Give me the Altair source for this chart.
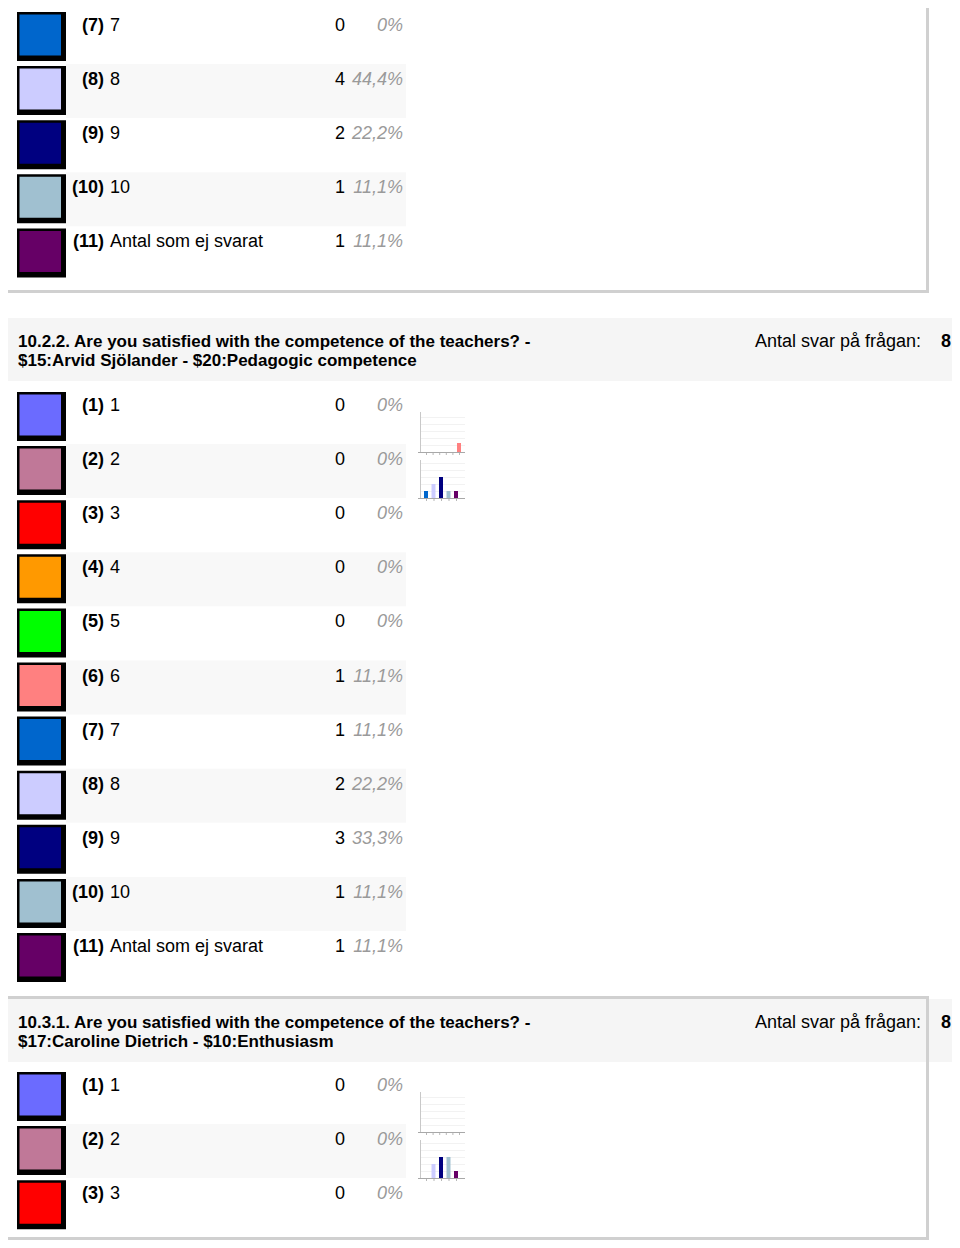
import altair as alt
import pandas as pd

# ---------------- data ----------------
codes = ["(1)", "(2)", "(3)", "(4)", "(5)", "(6)", "(7)", "(8)", "(9)", "(10)", "(11)"]
labels = ["1", "2", "3", "4", "5", "6", "7", "8", "9", "10", "Antal som ej svarat"]
swatch_colors = ["#6b6bff", "#c07898", "#ff0000", "#ff9900", "#00ff00", "#ff8080",
                 "#0066cc", "#ccccff", "#000080", "#a0c0d0", "#660066"]

# section 1 (only options 7-11 visible)
s1_rows = [7, 8, 9, 10, 11]
s1_counts = [0, 4, 2, 1, 1]
s1_pcts = ["0%", "44,4%", "22,2%", "11,1%", "11,1%"]

# section 2
s2_title = ["10.2.2. Are you satisfied with the competence of the teachers? -",
            "$15:Arvid Sjölander - $20:Pedagogic competence"]
s2_rows = [1, 2, 3, 4, 5, 6, 7, 8, 9, 10, 11]
s2_counts = [0, 0, 0, 0, 0, 1, 1, 2, 3, 1, 1]
s2_pcts = ["0%", "0%", "0%", "0%", "0%", "11,1%", "11,1%", "22,2%", "33,3%", "11,1%", "11,1%"]
s2_answers = "8"

# section 3 (only options 1-3 visible in list; thumbnails show all)
s3_title = ["10.3.1. Are you satisfied with the competence of the teachers? -",
            "$17:Caroline Dietrich - $10:Enthusiasm"]
s3_rows = [1, 2, 3]
s3_counts_all = [0, 0, 0, 0, 0, 0, 0, 2, 3, 3, 1]
s3_pcts = ["0%", "0%", "0%"]
s3_answers = "8"
answers_label = "Antal svar på frågan:"

# ---------------- layout helpers ----------------
W, H = 944, 1232
X0, Y0 = 8, 8          # page offset of the view
XMAX, YMAX = X0 + W, Y0 + H
PITCH = 54.1
rects = []   # x, x2, y, y2, fill
texts = []   # x, y, text, style


def add_rect(x, x2, y, y2, fill):
    x, x2 = max(x, X0), min(x2, XMAX)
    y, y2 = max(y, Y0), min(y2, YMAX)
    if x2 > x and y2 > y:
        rects.append(dict(x=x, x2=x2, y=y, y2=y2, fill=fill))


def add_text(x, y, t, style):
    texts.append(dict(x=x, y=y, text=t, style=style))


BORDER = "#d0d0d0"


def header(y_top, title, answers):
    add_rect(5, 956, y_top, y_top + 63, "#f5f5f5")
    add_text(18, y_top + 22, title[0], "title")
    add_text(18, y_top + 41, title[1], "title")
    add_text(921, y_top + 22, answers_label, "antal")
    add_text(946, y_top + 22, answers, "n")


def rows_block(y_first, rows, counts, pcts):
    for k, (r, c, p) in enumerate(zip(rows, counts, pcts)):
        yc = y_first + k * PITCH
        i = r - 1
        if r % 2 == 0:
            add_rect(66, 406, yc - 14, yc + 40, "#f8f8f8")
        add_text(104, yc, codes[i], "code")
        add_text(110, yc, labels[i], "label")
        add_text(345, yc, str(c), "count")
        add_text(403, yc, p, "pct")


def swatches(y_first, rows):
    for k, r in enumerate(rows):
        yc = y_first + k * PITCH
        add_rect(17, 66, yc - 12, yc + 37, "#000000")
        add_rect(19.5, 61, yc - 9.5, yc + 31.5, swatch_colors[r - 1])


def thumb(x0, x1, top, base, values, first_idx, start, pitch, unit):
    g = base - 7
    while g > top:
        add_rect(x0, x1, g, g + 1, "#f2f2f2")
        g -= 7
    add_rect(x0, x0 + 1, top, base, "#c8c8c8")
    add_rect(x0 - 2, x1, base, base + 1, "#a8a8a8")
    for j, v in enumerate(values):
        cx = start + j * pitch
        add_rect(cx, cx + 1, base + 1, base + 3, "#b8b8b8")
        if v > 0:
            add_rect(cx - 2, cx + 2, base - v * unit, base, swatch_colors[first_idx + j])


# section 1
rows_block(24, s1_rows, s1_counts, s1_pcts)
add_rect(926, 929, 0, 293, BORDER)
add_rect(3, 929, 290, 293, BORDER)

# section 2
header(318, s2_title, s2_answers)
rows_block(404, s2_rows, s2_counts, s2_pcts)

# section 3
header(999, s3_title, s3_answers)
rows_block(1084, s3_rows, [s3_counts_all[r - 1] for r in s3_rows], s3_pcts)
add_rect(3, 928, 996, 999, BORDER)
add_rect(926, 929, 996, 1245, BORDER)
add_rect(3, 929, 1237, 1240, BORDER)

swatches(24, s1_rows)
swatches(404, s2_rows)
swatches(1084, s3_rows)

thumb(420, 465, 412, 452, s2_counts[:6], 0, 426, 6.6, 9)
thumb(420, 465, 460, 498, s2_counts[6:], 6, 426, 7.5, 7)
thumb(420, 465, 1092, 1132, s3_counts_all[:6], 0, 426, 6.6, 9)
thumb(420, 465, 1140, 1178, s3_counts_all[6:], 6, 426, 7.5, 7)

rect_df = pd.DataFrame(rects)
text_df = pd.DataFrame(texts)

xs = alt.Scale(domain=[X0, XMAX], nice=False, zero=False)
ys = alt.Scale(domain=[Y0, YMAX], nice=False, zero=False, reverse=True)

rect_layer = alt.Chart(rect_df).mark_rect().encode(
    x=alt.X("x:Q", scale=xs, axis=None),
    x2="x2:Q",
    y=alt.Y("y:Q", scale=ys, axis=None),
    y2="y2:Q",
    fill=alt.Fill("fill:N", scale=None),
)

FONT = "Liberation Sans"
styles = {
    "code": dict(font=FONT, fontSize=18, fontWeight="bold", align="right", color="#000"),
    "label": dict(font=FONT, fontSize=18, align="left", color="#000"),
    "count": dict(font=FONT, fontSize=18, align="right", color="#000"),
    "pct": dict(font=FONT, fontSize=18, fontStyle="italic", align="right", color="#9a9a9a"),
    "title": dict(font=FONT, fontSize=17, fontWeight="bold", align="left", color="#000"),
    "antal": dict(font=FONT, fontSize=18, align="right", color="#000"),
    "n": dict(font=FONT, fontSize=18, fontWeight="bold", align="center", color="#000"),
}

layers = [rect_layer]
for name, st in styles.items():
    sub = text_df[text_df["style"] == name]
    layers.append(
        alt.Chart(sub).mark_text(baseline="middle", dy=2, **st).encode(
            x=alt.X("x:Q", scale=xs, axis=None),
            y=alt.Y("y:Q", scale=ys, axis=None),
            text="text:N",
        )
    )

chart = alt.layer(*layers).properties(
    width=W, height=H, padding=0,
    autosize=alt.AutoSizeParams(type="none"),
).configure_view(stroke=None)

chart.save("out.html", embed_options={"renderer": "svg", "actions": False})
